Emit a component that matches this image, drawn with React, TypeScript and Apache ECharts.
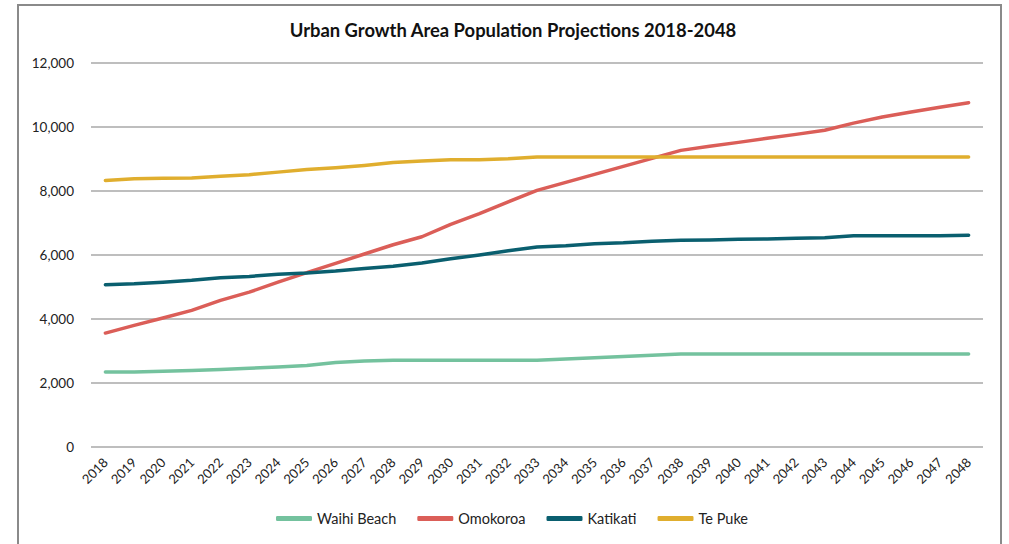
import React, { useEffect, useRef } from "react";
import * as echarts from "echarts";

const years = [
  "2018", "2019", "2020", "2021", "2022", "2023", "2024", "2025", "2026", "2027",
  "2028", "2029", "2030", "2031", "2032", "2033", "2034", "2035", "2036", "2037",
  "2038", "2039", "2040", "2041", "2042", "2043", "2044", "2045", "2046", "2047", "2048",
];

const waihiBeach = [
  2340, 2340, 2370, 2390, 2420, 2460, 2500, 2550, 2640, 2690,
  2710, 2710, 2710, 2710, 2710, 2710, 2750, 2790, 2830, 2870,
  2910, 2910, 2910, 2910, 2910, 2910, 2910, 2910, 2910, 2910, 2910,
];

const omokoroa = [
  3560, 3800, 4030, 4270, 4580, 4840, 5150, 5450, 5740, 6030,
  6320, 6570, 6960, 7290, 7660, 8020, 8270, 8520, 8770, 9020,
  9270, 9400, 9520, 9650, 9770, 9900, 10120, 10310, 10470, 10620, 10760,
];

const katikati = [
  5070, 5100, 5150, 5210, 5290, 5330, 5400, 5440, 5500, 5580,
  5650, 5750, 5880, 6000, 6130, 6250, 6290, 6350, 6380, 6430,
  6460, 6470, 6490, 6500, 6520, 6540, 6600, 6600, 6600, 6600, 6620,
];

const tePuke = [
  8330, 8380, 8400, 8410, 8460, 8510, 8590, 8670, 8730, 8800,
  8890, 8940, 8980, 8980, 9010, 9060, 9060, 9060, 9060, 9060,
  9060, 9060, 9060, 9060, 9060, 9060, 9060, 9060, 9060, 9060, 9060,
];

const seriesNames = ["Waihi Beach", "Omokoroa", "Katikati", "Te Puke"];
const seriesColors = ["#74C29E", "#DB5E58", "#0A5F6F", "#E0AE2E"];
const seriesData = [waihiBeach, omokoroa, katikati, tePuke];

const FONT = "Lato, 'Noto Sans', sans-serif";

export default function App() {
  const ref = useRef<HTMLDivElement>(null);

  useEffect(() => {
    if (!ref.current) return;
    const chart = echarts.init(ref.current, null, { renderer: "svg" });
    chart.setOption({
      animation: false,
      backgroundColor: "#ffffff",
      title: {
        text: "Urban Growth Area Population Projections 2018-2048",
        left: 508,
        top: 16,
        textAlign: "center",
        textStyle: {
          fontFamily: FONT,
          fontSize: 18.4,
          fontWeight: "bold",
          color: "#111111",
        },
      },
      graphic: [
        {
          type: "rect",
          shape: { x: 18, y: 5, width: 983, height: 560 },
          style: { fill: "none", stroke: "#8a8a8a", lineWidth: 2 },
          silent: true,
        },
      ],
      legend: {
        data: seriesNames,
        bottom: 13,
        left: 271,
        icon: "roundRect",
        itemWidth: 36,
        itemHeight: 5,
        itemGap: 21,
        textStyle: { fontFamily: FONT, fontSize: 14.5, color: "#222222" },
      },
      grid: { left: 91, right: 26, top: 63, bottom: 97, containLabel: false },
      xAxis: {
        type: "category",
        data: years,
        boundaryGap: true,
        axisLine: { show: false },
        axisTick: { show: false },
        axisLabel: {
          rotate: 45,
          interval: 0,
          margin: 13,
          fontFamily: FONT,
          fontSize: 13,
          color: "#222222",
        },
      },
      yAxis: {
        type: "value",
        min: 0,
        max: 12000,
        interval: 2000,
        axisLine: { show: false },
        axisTick: { show: false },
        splitLine: { lineStyle: { color: "#a8a8a8", width: 1.5 } },
        axisLabel: {
          margin: 17,
          fontFamily: FONT,
          fontSize: 13.5,
          color: "#222222",
          formatter: (v: number) => v.toLocaleString("en-US"),
        },
      },
      series: seriesNames.map((name, i) => ({
        name,
        type: "line",
        data: seriesData[i],
        symbol: "none",
        lineStyle: { width: 3.5, color: seriesColors[i], cap: "round", join: "round" },
        itemStyle: { color: seriesColors[i] },
      })),
    });
    return () => chart.dispose();
  }, []);

  return (
    <div
      ref={ref}
      style={{ position: "fixed", left: 0, top: 0, width: 1009, height: 544 }}
    />
  );
}
